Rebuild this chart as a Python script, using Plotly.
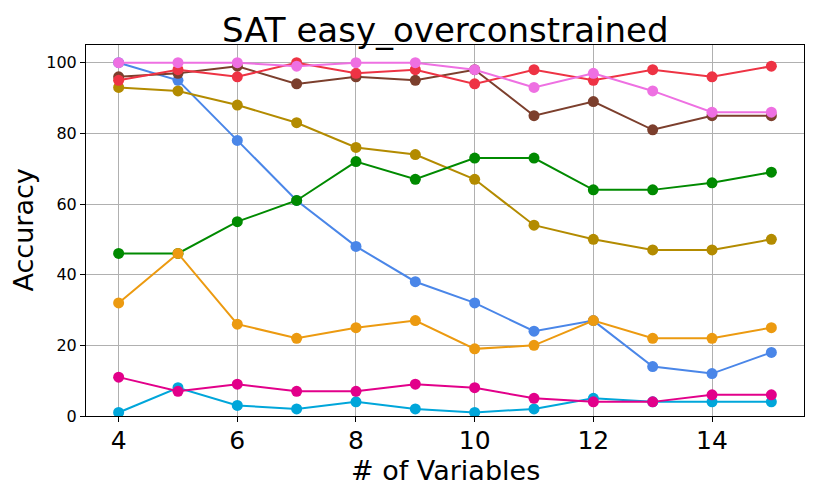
import plotly.graph_objects as go

x_vars = [4, 5, 6, 7, 8, 9, 10, 11, 12, 13, 14, 15]

blue_vals = [100, 95, 78, 61, 48, 38, 32, 24, 27, 14, 12, 18]
olive_vals = [93, 92, 88, 83, 76, 74, 67, 54, 50, 47, 47, 50]
green_vals = [46, 46, 55, 61, 72, 67, 73, 73, 64, 64, 66, 69]
orange_vals = [32, 46, 26, 22, 25, 27, 19, 20, 27, 22, 22, 25]
cyan_vals = [1, 8, 3, 2, 4, 2, 1, 2, 5, 4, 4, 4]
magenta_vals = [11, 7, 9, 7, 7, 9, 8, 5, 4, 4, 6, 6]
brown_vals = [96, 97, 99, 94, 96, 95, 98, 85, 89, 81, 85, 85]
red_vals = [95, 98, 96, 100, 97, 98, 94, 98, 95, 98, 96, 99]
pink_vals = [100, 100, 100, 99, 100, 100, 98, 93, 97, 92, 86, 86]

series = [
    (blue_vals, "#4A86E8"),
    (olive_vals, "#B38B00"),
    (green_vals, "#008A00"),
    (orange_vals, "#EC9A10"),
    (cyan_vals, "#00A6DA"),
    (magenta_vals, "#E2008A"),
    (brown_vals, "#7C3F2D"),
    (red_vals, "#EE3344"),
    (pink_vals, "#EE70E2"),
]

fig = go.Figure()
for vals, col in series:
    fig.add_trace(go.Scatter(
        x=x_vars, y=vals, mode="lines+markers",
        line=dict(color=col, width=2),
        marker=dict(color=col, size=11),
        showlegend=False,
    ))

font = "DejaVu Sans, sans-serif"
# page body has an 8px default margin; figure sized to fit the window
W, H = 806, 486
ML, MR, MT, MB = 78, 10, 37, 78
PW, PH = W - ML - MR, H - MT - MB
fig.update_layout(
    width=W, height=H,
    margin=dict(l=ML, r=MR, t=MT, b=MB, autoexpand=False),
    paper_bgcolor="white", plot_bgcolor="white",
    xaxis=dict(range=[3.45, 15.55], tickvals=[4, 6, 8, 10, 12, 14],
               automargin=False,
               showgrid=True, gridcolor="#b0b0b0", gridwidth=1,
               showline=True, linecolor="black", linewidth=1, mirror=True,
               ticks="outside", ticklen=5, tickcolor="black",
               ticklabelstandoff=-3,
               tickfont=dict(family=font, size=25, color="black"),
               zeroline=False),
    yaxis=dict(range=[0, 105], tickvals=[0, 20, 40, 60, 80, 100],
               automargin=False,
               showgrid=True, gridcolor="#b0b0b0", gridwidth=1,
               showline=True, linecolor="black", linewidth=1, mirror=True,
               ticks="outside", ticklen=5, tickcolor="black",
               tickfont=dict(family=font, size=16, color="black"),
               zeroline=False),
    annotations=[
        dict(text="SAT easy_overconstrained", xref="paper", yref="paper",
             x=0.5, y=1 + (45 - 8) / PH, xanchor="center", yanchor="top",
             showarrow=False, font=dict(family=font, size=34, color="black")),
        dict(text="# of Variables", xref="paper", yref="paper",
             x=0.5, y=-(470 - 416) / PH, xanchor="center", yanchor="middle",
             showarrow=False, font=dict(family=font, size=27, color="black")),
        dict(text="Accuracy", xref="paper", yref="paper", textangle=-90,
             x=-(86 - 23) / PW, y=0.5, xanchor="center", yanchor="middle",
             showarrow=False, font=dict(family=font, size=27, color="black")),
    ],
)

fig.write_html("out.html")
